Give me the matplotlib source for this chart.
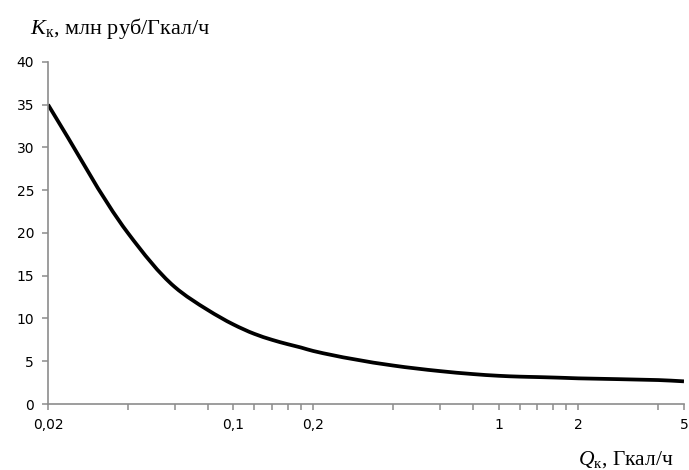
import numpy as np
import matplotlib.pyplot as plt
from matplotlib.path import Path
from matplotlib.patches import PathPatch
from matplotlib.ticker import FixedLocator, FixedFormatter, NullLocator

plt.rcParams['mathtext.fontset'] = 'custom'
plt.rcParams['mathtext.rm'] = 'Liberation Serif'
plt.rcParams['mathtext.it'] = 'Liberation Serif:italic'

# capacity Q, Gcal/h  and specific cost K, mln rub per Gcal/h
q = np.array([0.02, 0.04, 0.06, 0.08, 0.1, 0.12, 0.14, 0.16, 0.18, 0.2,
              0.4, 0.6, 0.8, 1, 1.2, 1.4, 1.6, 1.8, 2, 4, 5])
k = np.array([35.0, 20.0, 13.7, 11.0, 9.3, 8.2, 7.5, 7.0, 6.6, 6.2,
              4.5, 3.85, 3.5, 3.3, 3.2, 3.15, 3.1, 3.05, 3.0, 2.8, 2.65])

major_x = [0.02, 0.1, 0.2, 1, 2, 5]
major_lbl = ['0,02', '0,1', '0,2', '1', '2', '5']


def smooth_path(x, y):
    # smoothed line as cubic bezier segments (monotone hermite in log-x)
    t = np.log10(x)
    h = np.diff(t)
    s = np.diff(y) / h
    m = np.empty_like(y)
    m[0], m[-1] = s[0], s[-1]
    for i in range(1, len(y) - 1):
        if s[i - 1] * s[i] <= 0:
            m[i] = 0
        else:
            w1, w2 = 2 * h[i] + h[i - 1], h[i] + 2 * h[i - 1]
            m[i] = (w1 + w2) / (w1 / s[i - 1] + w2 / s[i])
    verts = [(t[0], y[0])]
    codes = [Path.MOVETO]
    for i in range(len(y) - 1):
        verts += [(t[i] + h[i] / 3, y[i] + m[i] * h[i] / 3),
                  (t[i + 1] - h[i] / 3, y[i + 1] - m[i + 1] * h[i] / 3),
                  (t[i + 1], y[i + 1])]
        codes += [Path.CURVE4] * 3
    verts = np.array(verts)
    verts[:, 0] = 10 ** verts[:, 0]
    return Path(verts, codes)


fig = plt.figure(figsize=(6.89, 4.70), dpi=100)
ax = fig.add_axes([0.0697, 0.1404, 0.923, 0.728])

ax.add_patch(PathPatch(smooth_path(q, k), fill=False, edgecolor='black',
                       lw=2.7, joinstyle='round', capstyle='butt'))

ax.set_xscale('log')
ax.set_xlim(0.02, 5)
ax.set_ylim(0, 40)
ax.set_yticks(np.arange(0, 41, 5))

ax.xaxis.set_major_locator(FixedLocator(q))
ax.xaxis.set_major_formatter(FixedFormatter(
    [major_lbl[major_x.index(v)] if v in major_x else '' for v in q]))
ax.xaxis.set_minor_locator(NullLocator())

grey = '#8c8c8c'
for s in ['top', 'right']:
    ax.spines[s].set_visible(False)
for s in ['left', 'bottom']:
    ax.spines[s].set_color(grey)
    ax.spines[s].set_linewidth(1.2)
ax.tick_params(direction='out', length=4, width=1.1, color=grey,
               labelsize=10, labelcolor='black', pad=6)

fig.text(0.044, 0.928, '$K_\\mathrm{к}$, млн руб/Гкал/ч', family='Liberation Serif',
         fontsize=16, ha='left', va='baseline')
fig.text(0.978, 0.012, '$Q_\\mathrm{к}$, Гкал/ч', family='Liberation Serif',
         fontsize=15.5, ha='right', va='baseline')

fig.savefig('out.png', dpi=100)
